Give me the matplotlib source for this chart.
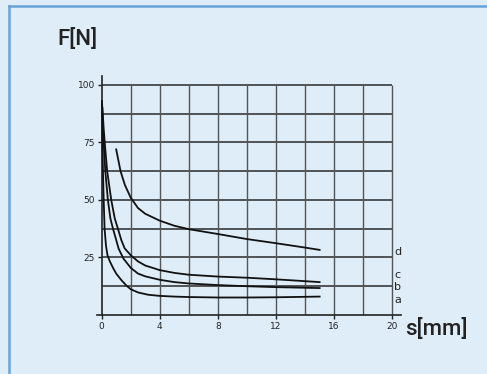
import matplotlib.pyplot as plt
from matplotlib.lines import Line2D
import numpy as np

# curves (s in mm, F in N)
s_a = [0.02, 0.05, 0.09, 0.14, 0.2, 0.3, 0.4, 0.55, 0.78, 1.0, 1.35, 1.7, 2.0, 2.5, 3.2, 4, 5, 6, 8, 10, 12, 14, 15]
f_a = [93, 75, 62.5, 50, 37.5, 30, 26, 23.5, 20.5, 18, 15.2, 12.8, 11.2, 9.8, 8.8, 8.3, 8.0, 7.8, 7.6, 7.6, 7.7, 7.9, 8.0]

s_b = [0.03, 0.1, 0.18, 0.25, 0.43, 0.6, 0.78, 1.0, 1.17, 1.5, 2.0, 2.5, 3, 4, 5, 6, 8, 10, 12, 15]
f_b = [92, 80, 70, 62.5, 50, 42, 37.5, 32.6, 28.8, 24.5, 20.5, 18, 16.8, 15.3, 14.3, 13.7, 13, 12.5, 12.1, 11.7]

s_c = [0.05, 0.15, 0.25, 0.38, 0.66, 0.9, 1.12, 1.35, 1.58, 2.0, 2.5, 3, 4, 5, 6, 8, 10, 12, 14, 15]
f_c = [90, 80, 72, 62.5, 50, 42, 37.5, 32.6, 29, 26, 23.3, 21.5, 19.5, 18.3, 17.5, 16.7, 16.2, 15.5, 14.7, 14.3]

s_d = [1.0, 1.3, 1.6, 2.0, 2.5, 3, 4, 5, 6, 8, 10, 12, 14, 15]
f_d = [72, 62.5, 56.5, 51, 46.5, 44, 41, 38.8, 37.3, 35.2, 33, 31.2, 29.3, 28.3]

curve_names = ["a", "b", "c", "d"]
label_y = [6.5, 12.2, 17.4, 27.4]

x_ticks = [0, 4, 8, 12, 16, 20]
y_ticks = [25, 50, 75, 100]

bg = "#deedf8"
ink = "#222222"

fig = plt.figure(figsize=(4.87, 3.74), dpi=100, facecolor=bg)
ax = fig.add_axes([0.1998, 0.1578, 0.6236, 0.6396])
ax.set_facecolor(bg)
ax.set_xlim(-0.3, 20.6)
ax.set_ylim(0, 104)

# grid
ax.hlines(np.arange(12.5, 101, 12.5), 0, 20, color="#2a2a2a", lw=1.1, zorder=1)
ax.vlines(np.arange(2, 21, 2), 0, 100, color="#555555", lw=1.0, zorder=1)

for s, f in [(s_a, f_a), (s_b, f_b), (s_c, f_c), (s_d, f_d)]:
    ax.plot(s, f, color="#111111", lw=1.3, zorder=3, solid_joinstyle="round")

for name, y in zip(curve_names, label_y):
    ax.text(20.15, y, name, fontsize=8, color=ink, va="center", ha="left")

for side in ["top", "right"]:
    ax.spines[side].set_visible(False)
ax.spines["left"].set_position(("data", 0))
for side in ["left", "bottom"]:
    ax.spines[side].set_color(ink)
    ax.spines[side].set_linewidth(1.2)

ax.set_xticks(x_ticks)
ax.set_yticks(y_ticks)
ax.tick_params(axis="both", labelsize=6.5, colors=ink, length=3, width=1, pad=2)

fig.text(0.118, 0.895, "F[N]", fontsize=16, family="Roboto", weight="medium", color=ink, va="center", ha="left")
fig.text(0.832, 0.12, "s[mm]", fontsize=16, family="Roboto", weight="medium", color=ink, va="center", ha="left")

# frame of the box (left and top edges)
fig.add_artist(Line2D([0.019, 0.019], [0, 0.985], color="#6aa3d6", lw=1.8))
fig.add_artist(Line2D([0.019, 1.0], [0.985, 0.985], color="#6aa3d6", lw=1.8))

fig.savefig("out.png", dpi=100, facecolor=bg)
